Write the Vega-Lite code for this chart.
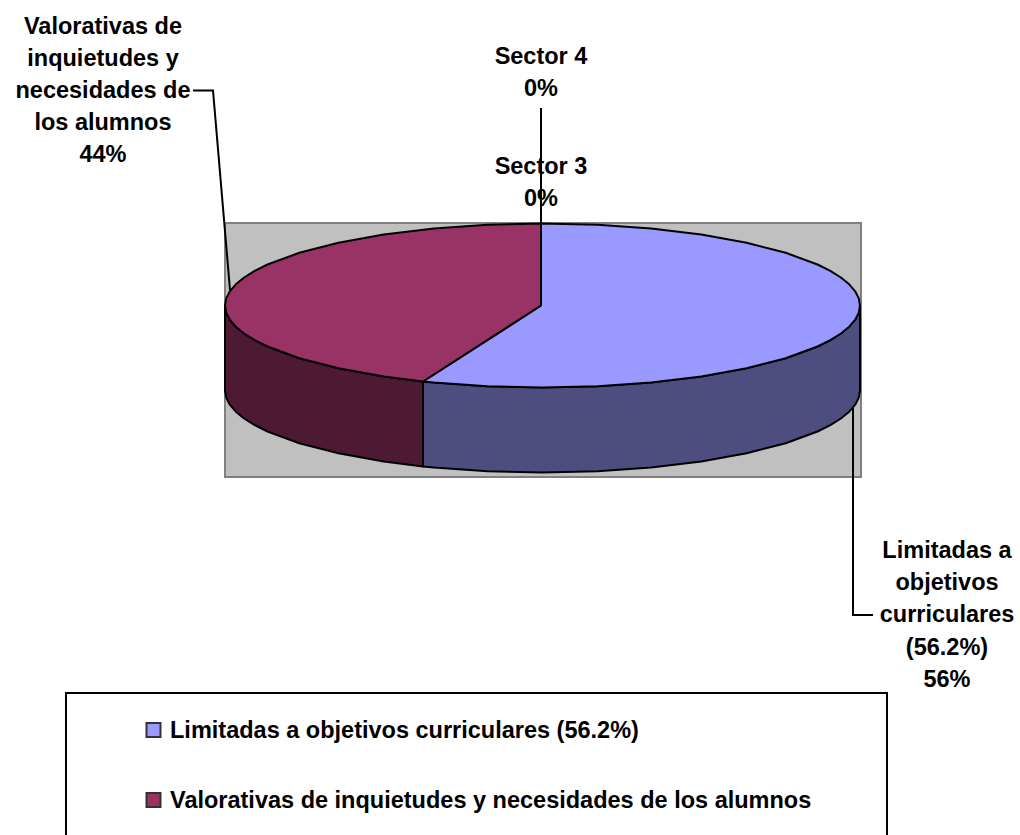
{
  "$schema": "https://vega.github.io/schema/vega-lite/v6.json",
  "width": 1020,
  "height": 835,
  "autosize": {"type": "fit", "contains": "padding"},
  "padding": 0,
  "background": "white",
  "config": {"view": {"stroke": null}, "text": {"font": "Liberation Sans", "fontWeight": "bold", "fontSize": 23.5, "color": "black", "dy": 1}},
  "datasets": {
    "frames": [
      {"name": "plot", "x": 225, "x2": 861, "y": 223, "y2": 477, "fill": "#C0C0C0", "stroke": "#808080"},
      {"name": "legend", "x": 66, "x2": 887, "y": 693, "y2": 860, "fill": "white", "stroke": "black"}
    ],
    "faces": [
      {"part": "lado Limitadas", "i": 0, "x": 423, "y": 381.5},
      {"part": "lado Limitadas", "i": 1, "x": 433.9, "y": 382.6},
      {"part": "lado Limitadas", "i": 2, "x": 487.4, "y": 386.3},
      {"part": "lado Limitadas", "i": 3, "x": 542.5, "y": 387.5},
      {"part": "lado Limitadas", "i": 4, "x": 597.6, "y": 386.3},
      {"part": "lado Limitadas", "i": 5, "x": 651.1, "y": 382.6},
      {"part": "lado Limitadas", "i": 6, "x": 701.3, "y": 376.5},
      {"part": "lado Limitadas", "i": 7, "x": 746.6, "y": 368.3},
      {"part": "lado Limitadas", "i": 8, "x": 785.7, "y": 358.2},
      {"part": "lado Limitadas", "i": 9, "x": 817.5, "y": 346.5},
      {"part": "lado Limitadas", "i": 9.5, "x": 830.3, "y": 340.2},
      {"part": "lado Limitadas", "i": 10, "x": 840.9, "y": 333.5},
      {"part": "lado Limitadas", "i": 10.5, "x": 849.2, "y": 326.7},
      {"part": "lado Limitadas", "i": 11, "x": 855.2, "y": 319.7},
      {"part": "lado Limitadas", "i": 11.5, "x": 858.8, "y": 312.6},
      {"part": "lado Limitadas", "i": 12, "x": 860, "y": 305.5},
      {"part": "lado Limitadas", "i": 13, "x": 860, "y": 390.5},
      {"part": "lado Limitadas", "i": 13.5, "x": 858.8, "y": 397.6},
      {"part": "lado Limitadas", "i": 14, "x": 855.2, "y": 404.7},
      {"part": "lado Limitadas", "i": 14.5, "x": 849.2, "y": 411.7},
      {"part": "lado Limitadas", "i": 15, "x": 840.9, "y": 418.5},
      {"part": "lado Limitadas", "i": 15.5, "x": 830.3, "y": 425.2},
      {"part": "lado Limitadas", "i": 16, "x": 817.5, "y": 431.5},
      {"part": "lado Limitadas", "i": 17, "x": 785.7, "y": 443.2},
      {"part": "lado Limitadas", "i": 18, "x": 746.6, "y": 453.3},
      {"part": "lado Limitadas", "i": 19, "x": 701.3, "y": 461.5},
      {"part": "lado Limitadas", "i": 20, "x": 651.1, "y": 467.6},
      {"part": "lado Limitadas", "i": 21, "x": 597.6, "y": 471.3},
      {"part": "lado Limitadas", "i": 22, "x": 542.5, "y": 472.5},
      {"part": "lado Limitadas", "i": 23, "x": 487.4, "y": 471.3},
      {"part": "lado Limitadas", "i": 24, "x": 433.9, "y": 467.6},
      {"part": "lado Limitadas", "i": 25, "x": 423, "y": 466.5},
      {"part": "lado Limitadas", "i": 26, "x": 423, "y": 381.5},

      {"part": "lado Valorativas", "i": 0, "x": 225, "y": 305.5},
      {"part": "lado Valorativas", "i": 0.5, "x": 226.2, "y": 312.6},
      {"part": "lado Valorativas", "i": 1, "x": 229.8, "y": 319.7},
      {"part": "lado Valorativas", "i": 1.5, "x": 235.8, "y": 326.7},
      {"part": "lado Valorativas", "i": 2, "x": 244.1, "y": 333.5},
      {"part": "lado Valorativas", "i": 2.5, "x": 254.7, "y": 340.2},
      {"part": "lado Valorativas", "i": 3, "x": 267.5, "y": 346.5},
      {"part": "lado Valorativas", "i": 4, "x": 299.3, "y": 358.2},
      {"part": "lado Valorativas", "i": 5, "x": 338.4, "y": 368.3},
      {"part": "lado Valorativas", "i": 6, "x": 383.8, "y": 376.5},
      {"part": "lado Valorativas", "i": 7, "x": 423, "y": 381.5},
      {"part": "lado Valorativas", "i": 8, "x": 423, "y": 466.5},
      {"part": "lado Valorativas", "i": 9, "x": 383.8, "y": 461.5},
      {"part": "lado Valorativas", "i": 10, "x": 338.4, "y": 453.3},
      {"part": "lado Valorativas", "i": 11, "x": 299.3, "y": 443.2},
      {"part": "lado Valorativas", "i": 12, "x": 267.5, "y": 431.5},
      {"part": "lado Valorativas", "i": 12.5, "x": 254.7, "y": 425.2},
      {"part": "lado Valorativas", "i": 13, "x": 244.1, "y": 418.5},
      {"part": "lado Valorativas", "i": 13.5, "x": 235.8, "y": 411.7},
      {"part": "lado Valorativas", "i": 14, "x": 229.8, "y": 404.7},
      {"part": "lado Valorativas", "i": 14.5, "x": 226.2, "y": 397.6},
      {"part": "lado Valorativas", "i": 15, "x": 225, "y": 390.5},
      {"part": "lado Valorativas", "i": 16, "x": 225, "y": 305.5},

      {"part": "Limitadas", "i": 0, "x": 541, "y": 305.5},
      {"part": "Limitadas", "i": 1, "x": 541, "y": 223.5},
      {"part": "Limitadas", "i": 2, "x": 597.6, "y": 224.7},
      {"part": "Limitadas", "i": 3, "x": 651.1, "y": 228.4},
      {"part": "Limitadas", "i": 4, "x": 701.3, "y": 234.5},
      {"part": "Limitadas", "i": 5, "x": 746.6, "y": 242.7},
      {"part": "Limitadas", "i": 6, "x": 785.7, "y": 252.8},
      {"part": "Limitadas", "i": 7, "x": 817.5, "y": 264.5},
      {"part": "Limitadas", "i": 7.5, "x": 830.3, "y": 270.8},
      {"part": "Limitadas", "i": 8, "x": 840.9, "y": 277.5},
      {"part": "Limitadas", "i": 8.5, "x": 849.2, "y": 284.3},
      {"part": "Limitadas", "i": 9, "x": 855.2, "y": 291.3},
      {"part": "Limitadas", "i": 9.5, "x": 858.8, "y": 298.4},
      {"part": "Limitadas", "i": 10, "x": 860, "y": 305.5},
      {"part": "Limitadas", "i": 10.5, "x": 858.8, "y": 312.6},
      {"part": "Limitadas", "i": 11, "x": 855.2, "y": 319.7},
      {"part": "Limitadas", "i": 11.5, "x": 849.2, "y": 326.7},
      {"part": "Limitadas", "i": 12, "x": 840.9, "y": 333.5},
      {"part": "Limitadas", "i": 12.5, "x": 830.3, "y": 340.2},
      {"part": "Limitadas", "i": 13, "x": 817.5, "y": 346.5},
      {"part": "Limitadas", "i": 14, "x": 785.7, "y": 358.2},
      {"part": "Limitadas", "i": 15, "x": 746.6, "y": 368.3},
      {"part": "Limitadas", "i": 16, "x": 701.3, "y": 376.5},
      {"part": "Limitadas", "i": 17, "x": 651.1, "y": 382.6},
      {"part": "Limitadas", "i": 18, "x": 597.6, "y": 386.3},
      {"part": "Limitadas", "i": 19, "x": 542.5, "y": 387.5},
      {"part": "Limitadas", "i": 20, "x": 487.4, "y": 386.3},
      {"part": "Limitadas", "i": 21, "x": 433.9, "y": 382.6},
      {"part": "Limitadas", "i": 22, "x": 423, "y": 381.5},
      {"part": "Limitadas", "i": 23, "x": 541, "y": 305.5},

      {"part": "Valorativas", "i": 0, "x": 541, "y": 305.5},
      {"part": "Valorativas", "i": 1, "x": 423, "y": 381.5},
      {"part": "Valorativas", "i": 2, "x": 383.8, "y": 376.5},
      {"part": "Valorativas", "i": 3, "x": 338.4, "y": 368.3},
      {"part": "Valorativas", "i": 4, "x": 299.3, "y": 358.2},
      {"part": "Valorativas", "i": 5, "x": 267.5, "y": 346.5},
      {"part": "Valorativas", "i": 5.5, "x": 254.7, "y": 340.2},
      {"part": "Valorativas", "i": 6, "x": 244.1, "y": 333.5},
      {"part": "Valorativas", "i": 6.5, "x": 235.8, "y": 326.7},
      {"part": "Valorativas", "i": 7, "x": 229.8, "y": 319.7},
      {"part": "Valorativas", "i": 7.5, "x": 226.2, "y": 312.6},
      {"part": "Valorativas", "i": 8, "x": 225, "y": 305.5},
      {"part": "Valorativas", "i": 8.5, "x": 226.2, "y": 298.4},
      {"part": "Valorativas", "i": 9, "x": 229.8, "y": 291.3},
      {"part": "Valorativas", "i": 9.5, "x": 235.8, "y": 284.3},
      {"part": "Valorativas", "i": 10, "x": 244.1, "y": 277.5},
      {"part": "Valorativas", "i": 10.5, "x": 254.7, "y": 270.8},
      {"part": "Valorativas", "i": 11, "x": 267.5, "y": 264.5},
      {"part": "Valorativas", "i": 12, "x": 299.3, "y": 252.8},
      {"part": "Valorativas", "i": 13, "x": 338.4, "y": 242.7},
      {"part": "Valorativas", "i": 14, "x": 383.8, "y": 234.5},
      {"part": "Valorativas", "i": 15, "x": 433.9, "y": 228.4},
      {"part": "Valorativas", "i": 16, "x": 487.4, "y": 224.7},
      {"part": "Valorativas", "i": 17, "x": 541, "y": 223.5},
      {"part": "Valorativas", "i": 18, "x": 541, "y": 305.5}
    ],
    "leaders": [
      {"sector": "Valorativas", "i": 0, "x": 193, "y": 90.5},
      {"sector": "Valorativas", "i": 1, "x": 213, "y": 90.5},
      {"sector": "Valorativas", "i": 2, "x": 230, "y": 290},
      {"sector": "Sector", "i": 0, "x": 541, "y": 108},
      {"sector": "Sector", "i": 1, "x": 541, "y": 305},
      {"sector": "Limitadas", "i": 0, "x": 853, "y": 408},
      {"sector": "Limitadas", "i": 1, "x": 853, "y": 615},
      {"sector": "Limitadas", "i": 2, "x": 873, "y": 615}
    ],
    "labels": [
      {"text": "Valorativas de", "x": 103, "y": 26},
      {"text": "inquietudes y", "x": 103, "y": 58},
      {"text": "necesidades de", "x": 103, "y": 90},
      {"text": "los alumnos", "x": 103, "y": 122},
      {"text": "44%", "x": 103, "y": 154},
      {"text": "Sector 4", "x": 541, "y": 56},
      {"text": "0%", "x": 541, "y": 88},
      {"text": "Sector 3", "x": 541, "y": 166},
      {"text": "0%", "x": 541, "y": 198},
      {"text": "Limitadas a", "x": 947, "y": 550},
      {"text": "objetivos", "x": 947, "y": 582},
      {"text": "curriculares", "x": 947, "y": 614},
      {"text": "(56.2%)", "x": 947, "y": 647},
      {"text": "56%", "x": 947, "y": 679}
    ],
    "legendRows": [
      {"part": "Limitadas", "text": "Limitadas a objetivos curriculares (56.2%)", "x": 153.5, "tx": 170, "y": 730},
      {"part": "Valorativas", "text": "Valorativas de inquietudes y necesidades de los alumnos", "x": 153.5, "tx": 170, "y": 800}
    ]
  },
  "layer": [
    {
      "data": {"name": "frames"},
      "mark": {"type": "rect", "strokeWidth": 2, "clip": true},
      "encoding": {
        "x": {"field": "x", "type": "quantitative", "scale": {"domain": [0, 1020], "nice": false, "zero": false}, "axis": null},
        "x2": {"field": "x2"},
        "y": {"field": "y", "type": "quantitative", "scale": {"domain": [835, 0], "nice": false, "zero": false}, "axis": null},
        "y2": {"field": "y2"},
        "fill": {"field": "fill", "type": "nominal", "scale": null, "legend": null},
        "stroke": {"field": "stroke", "type": "nominal", "scale": null, "legend": null}
      }
    },
    {
      "data": {"name": "faces"},
      "mark": {"type": "line", "stroke": "black", "strokeWidth": 2, "strokeJoin": "round", "interpolate": "linear"},
      "encoding": {
        "x": {"field": "x", "type": "quantitative"},
        "y": {"field": "y", "type": "quantitative"},
        "order": {"field": "i", "type": "quantitative"},
        "detail": {"field": "part"},
        "fill": {
          "field": "part", "type": "nominal", "legend": null,
          "scale": {
            "domain": ["lado Limitadas", "lado Valorativas", "Limitadas", "Valorativas"],
            "range": ["#4D4D80", "#4D1933", "#9999FF", "#993366"]
          }
        }
      }
    },
    {
      "data": {"name": "leaders"},
      "mark": {"type": "line", "stroke": "black", "strokeWidth": 2},
      "encoding": {
        "x": {"field": "x", "type": "quantitative"},
        "y": {"field": "y", "type": "quantitative"},
        "order": {"field": "i", "type": "quantitative"},
        "detail": {"field": "sector"}
      }
    },
    {
      "data": {"name": "labels"},
      "mark": {"type": "text", "align": "center", "baseline": "middle"},
      "encoding": {
        "x": {"field": "x", "type": "quantitative"},
        "y": {"field": "y", "type": "quantitative"},
        "text": {"field": "text"}
      }
    },
    {
      "data": {"name": "legendRows"},
      "mark": {"type": "point", "shape": "square", "filled": true, "size": 196, "stroke": "#333333", "strokeWidth": 2, "opacity": 1},
      "encoding": {
        "x": {"field": "x", "type": "quantitative"},
        "y": {"field": "y", "type": "quantitative"},
        "fill": {
          "field": "part", "type": "nominal", "legend": null,
          "scale": {
            "domain": ["lado Limitadas", "lado Valorativas", "Limitadas", "Valorativas"],
            "range": ["#4D4D80", "#4D1933", "#9999FF", "#993366"]
          }
        }
      }
    },
    {
      "data": {"name": "legendRows"},
      "mark": {"type": "text", "align": "left", "baseline": "middle"},
      "encoding": {
        "x": {"field": "tx", "type": "quantitative"},
        "y": {"field": "y", "type": "quantitative"},
        "text": {"field": "text"}
      }
    }
  ]
}
